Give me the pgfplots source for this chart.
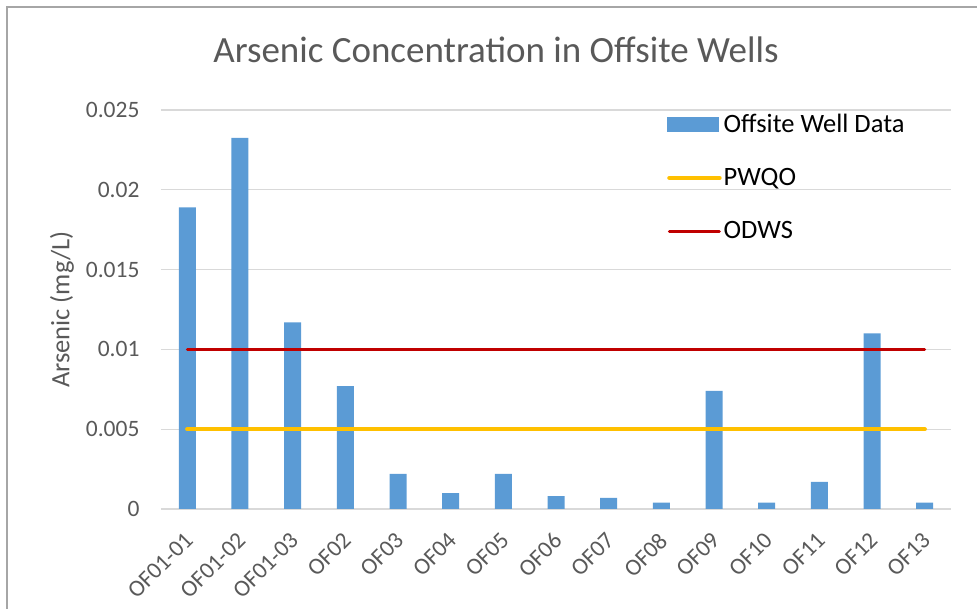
\documentclass[border=0pt]{standalone}
\usepackage{pgfplots}
\pgfplotsset{compat=1.18}
\usepackage{fontspec}
\setmainfont{Carlito}
\definecolor{txt}{HTML}{595959}
\definecolor{gridc}{HTML}{D9D9D9}
\definecolor{barc}{HTML}{5B9BD5}
\definecolor{pwqo}{HTML}{FFC000}
\definecolor{odws}{HTML}{C00000}
\begin{document}
\begin{tikzpicture}[x=1pt,y=1pt]
% canvas 977 x 609 px, plot area origin at (161,509) px
\path[use as bounding box] (-161,-100) rectangle (816,509);
\draw[color=black!35, line width=1.5pt] (-154,-100) -- (-154,502) -- (816,502);
\begin{axis}[
  scale only axis, width=790pt, height=399pt,
  at={(0,0)}, anchor=south west,
  xmin=-0.5, xmax=14.5, ymin=0, ymax=0.025,
  xtick={0,...,14},
  xticklabels={OF01-01,OF01-02,OF01-03,OF02,OF03,OF04,OF05,OF06,OF07,OF08,OF09,OF10,OF11,OF12,OF13},
  ytick={0,0.005,0.01,0.015,0.02,0.025},
  yticklabels={0,0.005,0.01,0.015,0.02,0.025},
  scaled y ticks=false,
  major tick length=0pt,
  axis line style={draw=none},
  axis x line*=bottom,
  ymajorgrids, grid style={gridc, line width=1.2pt},
  tick label style={font=\fontsize{23.5}{28}\selectfont, text=txt},
  xticklabel style={rotate=45, anchor=north east, xshift=-15pt, yshift=-9.5pt},
  yticklabel style={anchor=east, xshift=-18pt},
  ylabel={Arsenic (mg/L)},
  ylabel style={font=\fontsize{26.5}{32}\selectfont, text=txt, at={(-99pt,0.5)}, anchor=center, rotate=0},
  title={Arsenic Concentration in Offsite Wells},
  title style={font=\fontsize{37}{44}\selectfont, text=txt, at={(0.424,1)}, anchor=base, yshift=41pt},
  legend style={draw=none, fill=none, at={(506pt,397pt)}, anchor=north west,
    font=\fontsize{26.5}{32}\selectfont, row sep=30.5pt, inner sep=0pt,
    /tikz/every even column/.append style={column sep=6pt}},
  legend cell align=left,
  clip=false,
]
\draw[gridc, line width=1.5pt] (rel axis cs:0,0) -- (rel axis cs:1,0);
\addplot[ybar, bar width=17pt, fill=barc, draw=none,
  legend image code/.code={\fill[barc] (0pt,-7.5pt) rectangle (52pt,7.5pt);}]
  coordinates {(0,0.0189) (1,0.02325) (2,0.0117) (3,0.0077) (4,0.0022)
    (5,0.001) (6,0.0022) (7,0.0008) (8,0.0007) (9,0.0004) (10,0.0074)
    (11,0.0004) (12,0.0017) (13,0.011) (14,0.0004)};
\addlegendentry{Offsite Well Data}
\addplot[pwqo, line width=4.5pt, line cap=round,
  legend image code/.code={\draw[pwqo, line width=4.5pt, line cap=round] (2pt,0) -- (52pt,0);}]
  coordinates {(0,0.005) (14,0.005)};
\addlegendentry{PWQO}
\addplot[odws, line width=3pt, line cap=round,
  legend image code/.code={\draw[odws, line width=3pt, line cap=round] (2pt,0) -- (52pt,0);}]
  coordinates {(0,0.01) (14,0.01)};
\addlegendentry{ODWS}
\end{axis}
\end{tikzpicture}
\end{document}
